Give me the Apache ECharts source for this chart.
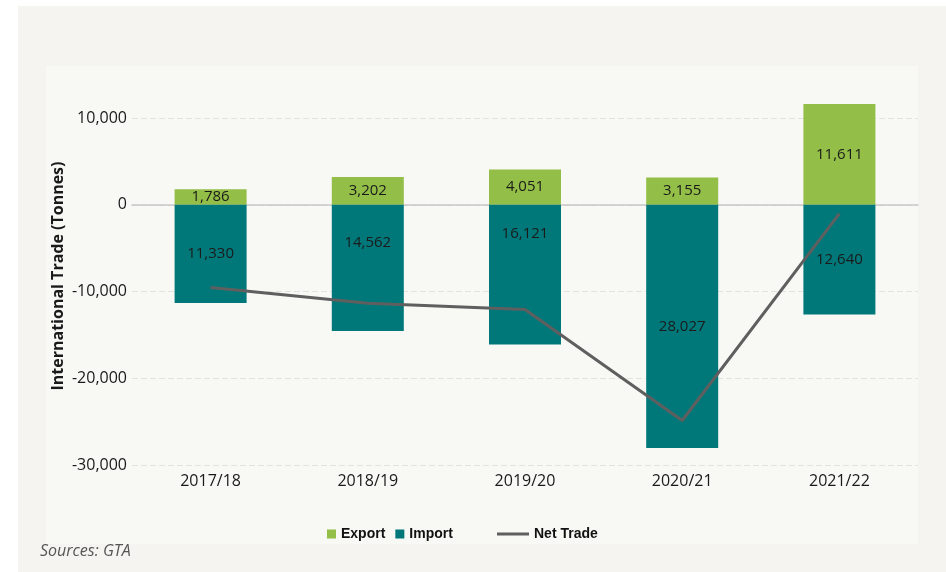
<!DOCTYPE html>
<html><head><meta charset="utf-8">
<script src="https://cdn.jsdelivr.net/npm/echarts@6/dist/echarts.min.js"></script>
<style>html,body{margin:0;padding:0;background:#fff}#c{width:946px;height:572px}</style>
</head><body><div id="c"></div>
<script>
const categories = ['2017/18','2018/19','2019/20','2020/21','2021/22'];
const exportValues = [1786, 3202, 4051, 3155, 11611];
const importValues = [11330, 14562, 16121, 28027, 12640];
const netTrade = [-9544, -11360, -12070, -24872, -1029];
const yTicks = [-30000, -20000, -10000, 0, 10000];

// label vertical nudges (styling only)
const importLabelOffsets = [0, -25, -41, 0, 0];

const chart = echarts.init(document.getElementById('c'), null, {renderer:'canvas'});
const fontFam = '"Open Sans", Lato, sans-serif';
const fmt = v => v.toLocaleString('en-US');

chart.setOption({
  backgroundColor: '#ffffff',
  animation: false,
  graphic: [
    {type:'rect', shape:{x:18,y:6,width:928,height:566}, style:{fill:'#f5f4f0'}, z:-10, silent:true},
    {type:'rect', shape:{x:46,y:66,width:872,height:478}, style:{fill:'#f8f8f5'}, z:-9, silent:true},
    {type:'text', x:58, y:276, rotation:Math.PI/2, style:{text:'International Trade (Tonnes)', font:'bold 16px '+fontFam, fill:'#1a1a1a', align:'center', verticalAlign:'middle'}},
    {type:'text', left:40, top:543, style:{text:'Sources: GTA', font:'italic 16px '+fontFam, fill:'#555555'}}
  ],
  grid: {left:132, right:28, top:118, bottom:107, containLabel:false},
  legend: [
    {data:['Export','Import'], left:322, top:522, itemWidth:9, itemHeight:9, itemGap:10, icon:'rect',
     textStyle:{fontFamily:'Liberation Sans, Arial, sans-serif', fontWeight:'bold', fontSize:14, color:'#111'}},
    {data:['Net Trade'], left:492, top:522, itemWidth:32, itemHeight:3, itemGap:10, icon:'rect',
     textStyle:{fontFamily:'Liberation Sans, Arial, sans-serif', fontWeight:'bold', fontSize:14, color:'#111'}}
  ],
  xAxis: {
    type:'category', data:categories,
    axisLine:{show:true, onZero:true, lineStyle:{color:'#c8c8c8', width:1.5}},
    axisTick:{show:false},
    axisLabel:{color:'#1a1a1a', fontSize:16, fontFamily:fontFam, margin:8}
  },
  yAxis: {
    type:'value', min:yTicks[0], max:yTicks[yTicks.length-1], interval:10000,
    axisLine:{show:false}, axisTick:{show:false},
    axisLabel:{color:'#1a1a1a', fontSize:16, fontFamily:fontFam, margin:5, formatter:v=>fmt(v)},
    splitLine:{show:true, lineStyle:{color:'#e2e2df', type:[6,3], width:1}}
  },
  series: [
    {name:'Export', type:'bar', stack:'t', barWidth:72, clip:false,
     itemStyle:{color:'#93be47'},
     data: exportValues,
     label:{show:true, position:'inside', color:'#1a1a1a', fontSize:15, fontFamily:fontFam, formatter:p=>fmt(p.value)}},
    {name:'Import', type:'bar', stack:'t', barWidth:72, clip:false,
     itemStyle:{color:'#00787a'},
     data: importValues.map((v,i)=>({value:-v, label:{offset:[0, importLabelOffsets[i]]}})),
     label:{show:true, position:'inside', color:'#1a1a1a', fontSize:15, fontFamily:fontFam, formatter:p=>fmt(Math.abs(p.value))}},
    {name:'Net Trade', type:'line', data:netTrade, showSymbol:false, symbol:'none',
     lineStyle:{color:'#5f5f5f', width:3}, itemStyle:{color:'#5f5f5f'}, z:5}
  ]
});
</script></body></html>
